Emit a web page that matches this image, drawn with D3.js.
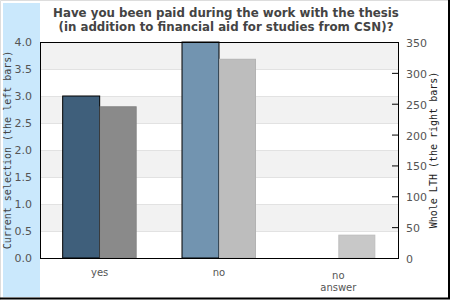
<!DOCTYPE html>
<html lang="en">
<head>
<meta charset="UTF-8">
<title>Paid during thesis</title>
<script src="https://cdn.jsdelivr.net/npm/d3@7"></script>
<style>
  html, body { margin: 0; padding: 0; background: #fff; }
  svg { display: block; font-family: "DejaVu Sans", sans-serif; }
</style>
</head>
<body>
<div id="chart"></div>
<script>
// data
const categories = ["yes", "no", "no answer"];
const leftValues = [3.0, 4.0, 0];          // current selection
const rightValues = [245, 322, 37];        // whole LTH
const leftColors = ["#3f5f7b", "#7294b0", "#7294b0"];
const rightColors = ["#8a8a8a", "#bdbdbd", "#c8c8c8"];
const leftTicks = [0, 0.5, 1, 1.5, 2, 2.5, 3, 3.5, 4];
const rightTicks = [0, 50, 100, 150, 200, 250, 300, 350];
const titleLines = ["Have you been paid during the work with the thesis",
                    "(in addition to financial aid for studies from CSN)?"];

var W = 450, H = 300,
    margin = { top: 42, left: 40, bottom: 42, right: 52 },
    innerW = W - margin.left - margin.right,
    innerH = H - margin.top - margin.bottom;

var svg = d3.select("#chart").append("svg")
    .attr("width", W).attr("height", H);

// frame + blue side panel
svg.append("rect").attr("x", 0).attr("y", 0).attr("width", W).attr("height", H).attr("fill", "#fff");
svg.append("rect").attr("x", 3).attr("y", 3).attr("width", 37).attr("height", 294).attr("fill", "#cae8fc");
svg.append("path").attr("d", `M0.5,${H} V0.5 H${W}`).attr("fill", "none").attr("stroke", "#ddd");
svg.append("path").attr("d", `M${W - 1},0 V${H - 1.5} H0`).attr("fill", "none").attr("stroke", "#000").attr("stroke-width", 2);

// title
svg.append("g").selectAll("text").data(titleLines).enter().append("text")
    .attr("x", 226).attr("y", (d, i) => 17 + i * 14)
    .attr("text-anchor", "middle")
    .attr("font-size", 11.8).attr("font-weight", "bold").attr("fill", "#444")
    .text(d => d);

var g = svg.append("g").attr("transform", `translate(${margin.left},${margin.top})`);

var x0 = d3.scaleBand().domain(categories).range([0, innerW]).paddingInner(0.38).paddingOuter(0.19);
var x1 = d3.scaleBand().domain([0, 1]).range([0, x0.bandwidth()]);
var yL = d3.scaleLinear().domain([0, 4]).range([innerH, 0]);
var yR = d3.scaleLinear().domain([0, 350]).range([innerH, 0]);

// alternating background bands
g.selectAll(".band").data(leftTicks.slice(0, -1)).enter().append("rect")
    .attr("x", 0).attr("width", innerW)
    .attr("y", d => yL(d + 0.5)).attr("height", d => yL(d) - yL(d + 0.5))
    .attr("fill", (d, i) => i % 2 ? "#f2f2f2" : "#fff");
g.selectAll(".grid").data(leftTicks.slice(1, -1)).enter().append("line")
    .attr("x1", 0).attr("x2", innerW)
    .attr("y1", d => Math.round(yL(d)) + 0.5).attr("y2", d => Math.round(yL(d)) + 0.5)
    .attr("stroke", "#e2e2e2");

// bars
var groups = g.selectAll(".grp").data(categories).enter().append("g")
    .attr("transform", d => `translate(${x0(d)},0)`);

groups.filter((d, i) => leftValues[i] > 0).append("rect")
    .attr("x", x1(0)).attr("width", x1.bandwidth())
    .attr("y", d => yL(leftValues[categories.indexOf(d)]))
    .attr("height", d => innerH - yL(leftValues[categories.indexOf(d)]))
    .attr("fill", d => leftColors[categories.indexOf(d)])
    .attr("stroke", "#000").attr("stroke-width", 1);

groups.append("rect")
    .attr("x", x1(1) + 0.5).attr("width", x1.bandwidth() - 1)
    .attr("y", d => yR(rightValues[categories.indexOf(d)]))
    .attr("height", d => innerH - yR(rightValues[categories.indexOf(d)]))
    .attr("fill", d => rightColors[categories.indexOf(d)])
    .attr("stroke", d => d3.color(rightColors[categories.indexOf(d)]).darker(0.15))
    .attr("stroke-width", 1);

// plot border
g.append("rect").attr("x", 0.5).attr("y", 0.5).attr("width", innerW).attr("height", innerH)
    .attr("fill", "none").attr("stroke", "#000");

// left axis labels (no tick marks)
var axL = g.append("g").call(d3.axisLeft(yL).tickValues(leftTicks).tickFormat(d3.format(".1f")).tickSize(0).tickPadding(8));
axL.select(".domain").remove();
axL.selectAll("text").attr("font-size", 11).attr("fill", "#555").attr("font-family", "DejaVu Sans");

// right axis with minor ticks
var axR = g.append("g").attr("transform", `translate(${innerW},0)`);
axR.call(d3.axisLeft(yR).tickValues(d3.range(0, 351, 10)).tickSize(3).tickFormat(""));
axR.call(d3.axisLeft(yR).tickValues(rightTicks).tickSize(6).tickFormat(""));
axR.selectAll(".domain").attr("stroke", "#000");
axR.selectAll("line").attr("stroke", "#000");

var labR = g.append("g").attr("transform", `translate(${innerW},0)`);
labR.selectAll("text").data(rightTicks).enter().append("text")
    .attr("x", 8).attr("y", d => yR(d) + 5)
    .attr("text-anchor", "start")
    .attr("font-size", 11).attr("fill", "#555")
    .text(d => d);

// category labels
var labels = g.selectAll(".cat").data(categories).enter().append("text")
    .attr("x", d => x0(d) + x0.bandwidth() / 2)
    .attr("y", d => d.includes(" ") ? innerH + 21 : innerH + 18)
    .attr("text-anchor", "middle").attr("font-size", 10).attr("fill", "#555");
labels.each(function(d) {
    var parts = d.split(" ");
    d3.select(this).selectAll("tspan").data(parts).enter().append("tspan")
        .attr("x", x0(d) + x0.bandwidth() / 2)
        .attr("dy", (p, i) => i ? 12 : 0)
        .text(p => p);
});

// axis titles
svg.append("text")
    .attr("transform", `translate(11,${margin.top + innerH / 2}) rotate(-90)`)
    .attr("text-anchor", "middle").attr("font-family", "DejaVu Sans Mono")
    .attr("font-size", 10).attr("fill", "#444")
    .text("Current selection (the left bars)");
svg.append("text")
    .attr("transform", `translate(437,${margin.top + innerH / 2}) rotate(-90)`)
    .attr("text-anchor", "middle").attr("font-family", "DejaVu Sans Mono")
    .attr("font-size", 10).attr("fill", "#222")
    .text("Whole LTH (the right bars)");
</script>
</body>
</html>
